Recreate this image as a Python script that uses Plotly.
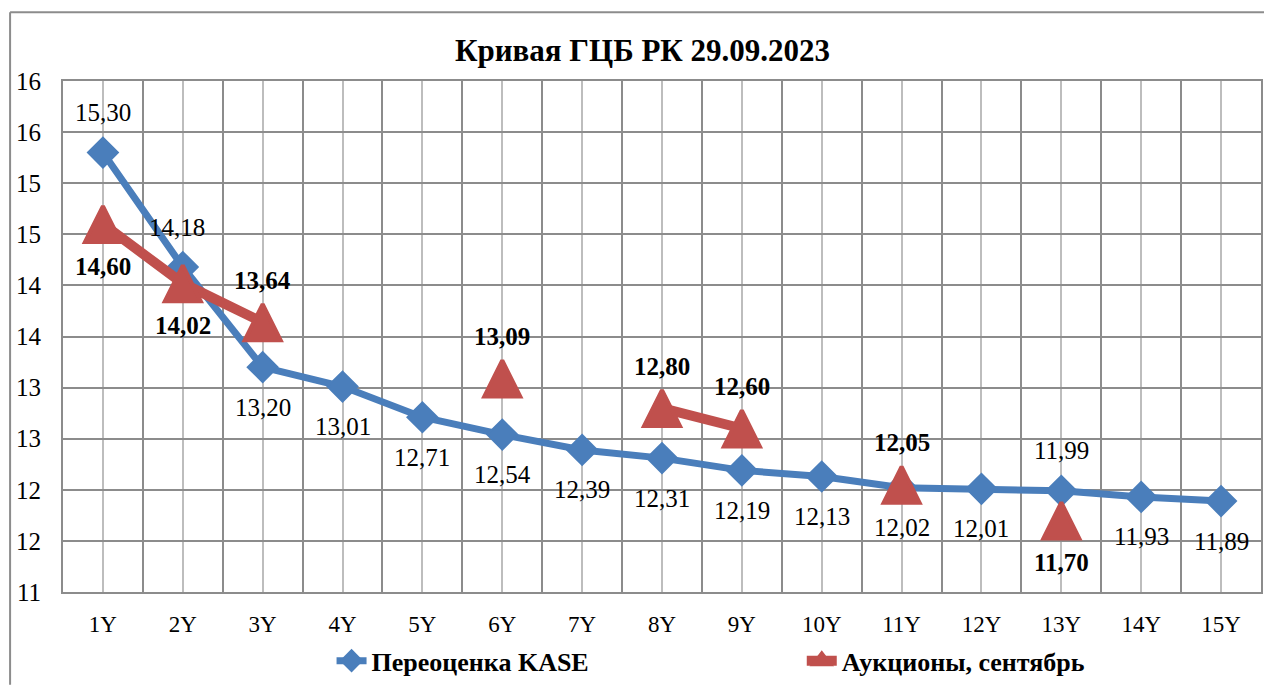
import plotly.graph_objects as go

# ---- data ----
categories = ["1Y", "2Y", "3Y", "4Y", "5Y", "6Y", "7Y", "8Y", "9Y", "10Y", "11Y", "12Y", "13Y", "14Y", "15Y"]
kase_values = [15.30, 14.18, 13.20, 13.01, 12.71, 12.54, 12.39, 12.31, 12.19, 12.13, 12.02, 12.01, 11.99, 11.93, 11.89]
auction_values = [14.60, 14.02, 13.64, None, None, 13.09, None, 12.80, 12.60, None, 12.05, None, 11.70, None, None]
y_tick_values = [11, 11.5, 12, 12.5, 13, 13.5, 14, 14.5, 15, 15.5, 16]
y_tick_labels = ["11", "12", "12", "13", "13", "14", "14", "15", "15", "16", "16"]
title_text = "Кривая ГЦБ РК 29.09.2023"
kase_name = "Переоценка KASE"
auction_name = "Аукционы, сентябрь"

# ---- label placement (style) ----
kase_label_side = [1, 1, -1, -1, -1, -1, -1, -1, -1, -1, -1, -1, 1, -1, -1]
auction_label_side = [-1, -1, 1, 0, 0, 1, 0, 1, 1, 0, 1, 0, -1, 0, 0]
kase_label_dx = [0, -6, 0, 0, 0, 0, 0, 0, 0, 0, 0, 0, 0, 0, 0]

BLUE = "#4A7EBB"
RED = "#C0504D"
FONT = "Liberation Serif"
GRID_DARK = "#8C8C8C"
GRID_LIGHT = "#BDBDBD"

x_idx = list(range(1, len(categories) + 1))

TRI = 36  # triangle marker size
fig = go.Figure()
fig.add_trace(go.Scatter(
    x=x_idx, y=kase_values, name=kase_name, mode="lines+markers",
    line=dict(color=BLUE, width=7), legend="legend",
    marker=dict(symbol="diamond", size=23, color=BLUE, line=dict(color=BLUE, width=2)),
))
fig.add_trace(go.Scatter(
    x=x_idx, y=auction_values, name=auction_name, mode="lines+markers",
    connectgaps=False, showlegend=False,
    line=dict(color=RED, width=10),
    # arrow-down rotated by 180 and pushed back by half its size = centred upward triangle
    marker=dict(symbol="arrow-down", angle=180, standoff=TRI / 2, size=TRI,
                color=RED, line=dict(color=RED, width=4)),
))
# legend entry for the auction series (same styling, plain triangle symbol)
fig.add_trace(go.Scatter(
    x=[None], y=[None], name=auction_name, mode="lines+markers", legend="legend2",
    line=dict(color=RED, width=10),
    marker=dict(symbol="triangle-up", size=24, color=RED, line=dict(color=RED, width=3)),
))

annotations = []
for i, v in enumerate(kase_values):
    annotations.append(dict(
        x=x_idx[i], y=v, xref="x", yref="y", text=f"{v:.2f}".replace(".", ","),
        showarrow=False, xanchor="center", yanchor="middle",
        yshift=40 * kase_label_side[i], xshift=kase_label_dx[i],
        font=dict(family=FONT, size=25, color="black"),
    ))
for i, v in enumerate(auction_values):
    if v is None:
        continue
    annotations.append(dict(
        x=x_idx[i], y=v, xref="x", yref="y", text=f"<b>{v:.2f}</b>".replace(".", ","),
        showarrow=False, xanchor="center", yanchor="middle",
        yshift=42 * auction_label_side[i],
        font=dict(family=FONT, size=25, color="black"),
    ))

W, H = 1266, 687
L, R, T, B = 63, 3, 81, 93
pw, ph = W - L - R, H - T - B

def px_to_paper_x(px):
    return (px - L) / pw

def px_to_paper_y(py):
    return (H - B - py) / ph

annotations.append(dict(
    x=px_to_paper_x(643), y=px_to_paper_y(50), xref="paper", yref="paper",
    xanchor="center", yanchor="middle",
    text=f"<b>{title_text}</b>", showarrow=False,
    font=dict(family=FONT, size=31, color="black"),
))

shapes = [
    dict(type="line", xref="paper", yref="paper",
         x0=px_to_paper_x(10), x1=px_to_paper_x(10), y0=px_to_paper_y(12), y1=px_to_paper_y(H),
         line=dict(color=GRID_DARK, width=2)),
    dict(type="line", xref="paper", yref="paper",
         x0=px_to_paper_x(10), x1=px_to_paper_x(W), y0=px_to_paper_y(12), y1=px_to_paper_y(12),
         line=dict(color=GRID_DARK, width=2)),
]

boundaries = [i + 0.5 for i in range(0, len(categories) + 1)]

legend_common = dict(
    orientation="h", xanchor="left",
    y=px_to_paper_y(663), yanchor="middle",
    font=dict(family=FONT, size=26, color="black", weight="bold"),
    itemsizing="trace", bgcolor="rgba(0,0,0,0)",
)

fig.update_layout(
    width=W, height=H, autosize=False,
    margin=dict(l=L, r=R, t=T, b=B),
    paper_bgcolor="white", plot_bgcolor="white",
    font=dict(family=FONT, color="black"),
    annotations=annotations,
    shapes=shapes,
    showlegend=True,
    legend=dict(x=px_to_paper_x(332), **legend_common),
    legend2=dict(x=px_to_paper_x(803), **legend_common),
    xaxis=dict(
        range=[0.5, len(categories) + 0.5],
        tickmode="array", tickvals=x_idx, ticktext=categories,
        showgrid=True, gridcolor=GRID_LIGHT, gridwidth=2,
        minor=dict(tickmode="array", tickvals=boundaries, showgrid=True, gridcolor=GRID_DARK, gridwidth=2),
        showline=True, linecolor=GRID_DARK, linewidth=2, mirror=True,
        zeroline=False, ticks="", ticklabelstandoff=10,
        tickfont=dict(family=FONT, size=23, color="black"),
        fixedrange=True,
    ),
    yaxis=dict(
        range=[11, 16],
        tickmode="array", tickvals=y_tick_values, ticktext=y_tick_labels,
        showgrid=True, gridcolor=GRID_DARK, gridwidth=2,
        showline=True, linecolor=GRID_DARK, linewidth=2, mirror=True,
        zeroline=False, ticks="", ticklabelstandoff=15,
        tickfont=dict(family=FONT, size=25, color="black"),
        fixedrange=True,
    ),
)

fig.write_html(
    "out.html",
    config={"responsive": False, "displayModeBar": False},
    post_script="document.body.style.margin='0';document.body.style.overflow='hidden';",
)
